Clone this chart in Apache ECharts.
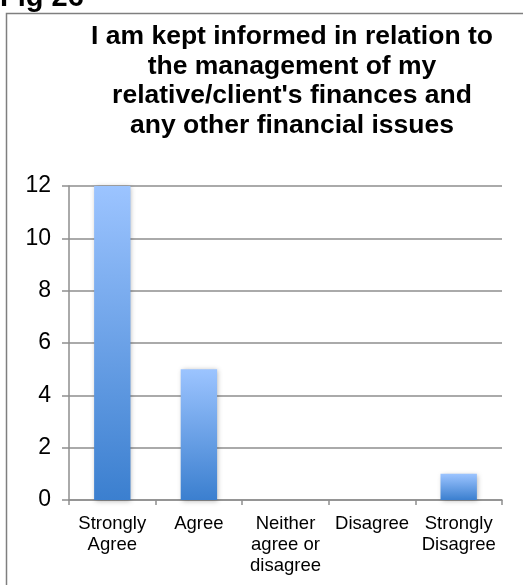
<!DOCTYPE html>
<html>
<head>
<meta charset="utf-8">
<script src="https://cdn.jsdelivr.net/npm/echarts@6/dist/echarts.min.js"></script>
<style>
  html, body { margin: 0; padding: 0; background: #fff; }
  #chart { width: 523px; height: 585px; }
</style>
</head>
<body>
<div id="chart"></div>
<script>
// Survey responses: count of answers per agreement level
const categories = ['Strongly\nAgree', 'Agree', 'Neither\nagree or\ndisagree', 'Disagree', 'Strongly\nDisagree'];
const responses = [12, 5, 0, 0, 1];
const yTicks = { min: 0, max: 12, interval: 2 };

const titleLines = [
  'I am kept informed in relation to',
  'the management of my',
  "relative/client's finances and",
  'any other financial issues'
];

const FONT = '"Liberation Sans", Arial, sans-serif';
const gridGray = '#8e8e8e';

const chart = echarts.init(document.getElementById('chart'), null, { renderer: 'canvas' });

chart.setOption({
  backgroundColor: '#ffffff',
  animation: false,
  graphic: [
    {
      type: 'rect',
      left: 4, top: 11,
      shape: { width: 640, height: 640 },
      style: { fill: 'none', stroke: '#7f7f7f', lineWidth: 1.5 },
      z: 0
    },
    {
      type: 'text',
      left: 0, top: -17,
      style: { text: 'Fig 26', font: 'bold 29px ' + FONT, fill: '#000' }
    }
  ],
  title: {
    text: titleLines.join('\n'),
    left: 287,
    top: 17,
    textAlign: 'center',
    textStyle: {
      fontFamily: FONT,
      fontWeight: 'bold',
      fontSize: 26.5,
      lineHeight: 29.5,
      color: '#000'
    }
  },
  grid: { left: 69, right: 21, top: 186, bottom: 85, containLabel: false },
  xAxis: {
    type: 'category',
    data: categories,
    axisLine: { lineStyle: { color: gridGray, width: 1.5 } },
    axisTick: { show: true, length: 5, alignWithLabel: false, lineStyle: { color: gridGray, width: 1.5 } },
    axisLabel: {
      interval: 0,
      margin: 13,
      fontFamily: FONT,
      fontSize: 18.5,
      lineHeight: 21,
      color: '#000'
    }
  },
  yAxis: {
    type: 'value',
    min: yTicks.min,
    max: yTicks.max,
    interval: yTicks.interval,
    axisLine: { show: true, lineStyle: { color: gridGray, width: 1.5 } },
    axisTick: { show: true, length: 7, lineStyle: { color: gridGray, width: 1.5 } },
    splitLine: { lineStyle: { color: gridGray, width: 1.5 } },
    axisLabel: {
      margin: 18,
      fontFamily: FONT,
      fontSize: 23,
      color: '#000'
    }
  },
  series: [{
    type: 'bar',
    data: responses,
    barWidth: '42%',
    itemStyle: {
      color: new echarts.graphic.LinearGradient(0, 0, 0, 1, [
        { offset: 0, color: '#9cc4ff' },
        { offset: 1, color: '#3b7fcf' }
      ]),
      shadowColor: 'rgba(0,0,0,0.3)',
      shadowBlur: 5,
      shadowOffsetX: 1,
      shadowOffsetY: 1
    }
  }]
});
</script>
</body>
</html>
